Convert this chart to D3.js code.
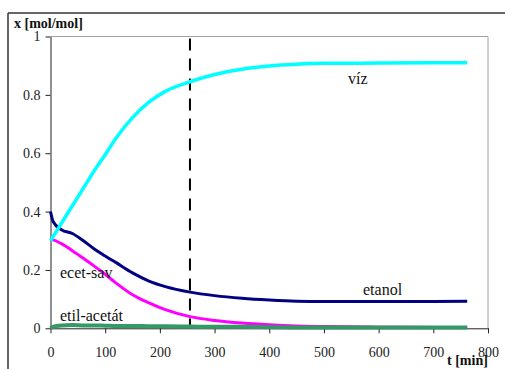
<!DOCTYPE html>
<html>
<head>
<meta charset="utf-8">
<script src="https://cdn.jsdelivr.net/npm/d3@7"></script>
<style>
  html, body { margin: 0; padding: 0; background: #fff; }
  svg { display: block; }
</style>
</head>
<body>
<svg id="chart" width="505" height="369"></svg>
<script>
// time points [min]
var tPoints = [0, 5, 20, 40, 60, 80, 100, 120, 150, 180, 210, 255, 300, 350, 400, 450, 500, 600, 700, 762];

// mole fractions
var vizValues    = [0.300, 0.315, 0.360, 0.420, 0.480, 0.540, 0.595, 0.652, 0.722, 0.775, 0.812, 0.845, 0.870, 0.888, 0.899, 0.905, 0.908, 0.909, 0.910, 0.910];
var etanolValues = [0.400, 0.365, 0.338, 0.325, 0.300, 0.272, 0.248, 0.225, 0.190, 0.162, 0.143, 0.124, 0.112, 0.103, 0.097, 0.093, 0.092, 0.092, 0.092, 0.093];
var ecetValues   = [0.305, 0.303, 0.290, 0.266, 0.240, 0.213, 0.185, 0.155, 0.115, 0.087, 0.064, 0.040, 0.027, 0.018, 0.012, 0.008, 0.006, 0.004, 0.003, 0.003];
var etilValues   = [0.000, 0.006, 0.010, 0.011, 0.010, 0.010, 0.009, 0.008, 0.008, 0.007, 0.007, 0.006, 0.005, 0.005, 0.004, 0.003, 0.003, 0.003, 0.003, 0.003];

var seriesNames  = ['etanol', 'ecet-sav', 'etil-acetát', 'víz'];
var seriesColors = ['#000080', '#ff00ff', '#339966', '#00ffff'];
var seriesWidths = [3, 3, 4, 3.5];
var seriesValues = [etanolValues, ecetValues, etilValues, vizValues];

var xTicks = [0, 100, 200, 300, 400, 500, 600, 700, 800];
var yTicks = [0, 0.2, 0.4, 0.6, 0.8, 1];
var markerT = 255; // dashed vertical line

var FONT = 'Liberation Serif';

var svg = d3.select('#chart');

var x = d3.scaleLinear().domain([0, 800]).range([50.5, 488]);
var y = d3.scaleLinear().domain([0, 1]).range([328.3, 36.5]);

// outer frame (top and left edge)
svg.append('line').attr('x1', 8).attr('y1', 13).attr('x2', 505).attr('y2', 13)
    .attr('stroke', '#333').attr('stroke-width', 1.5);
svg.append('line').attr('x1', 8).attr('y1', 13).attr('x2', 8).attr('y2', 369)
    .attr('stroke', '#333').attr('stroke-width', 1.5);

// plot area border (top and right)
svg.append('path')
    .attr('d', 'M' + x(0) + ',' + y(1) + 'H' + x(800) + 'V' + y(0))
    .attr('fill', 'none').attr('stroke', '#a0a0a0').attr('stroke-width', 1);

// y axis
var yAxis = svg.append('g')
    .attr('transform', 'translate(' + x(0) + ',0)')
    .call(d3.axisLeft(y).tickValues(yTicks).tickSize(5).tickPadding(5).tickSizeOuter(0)
        .tickFormat(function(d) { return (d === 0 || d === 1) ? String(d) : d3.format('.1f')(d); }));

// x axis
var xAxis = svg.append('g')
    .attr('transform', 'translate(0,' + y(0) + ')')
    .call(d3.axisBottom(x).tickValues(xTicks).tickSize(5).tickSizeOuter(0));

[yAxis, xAxis].forEach(function(ax) {
    ax.attr('font-family', FONT);
    ax.selectAll('.domain').attr('stroke', '#222');
    ax.selectAll('.tick line').attr('stroke', '#222');
    ax.selectAll('text')
        .attr('font-family', FONT)
        .attr('font-size', 14)
        .attr('fill', '#222');
});
xAxis.selectAll('text').attr('y', 29).attr('dy', null);

// dashed marker
svg.append('line')
    .attr('x1', x(markerT)).attr('x2', x(markerT))
    .attr('y1', y(1) + 2).attr('y2', y(0) - 2)
    .attr('stroke', '#000').attr('stroke-width', 2)
    .attr('stroke-dasharray', '12,8');

// curves
var line = d3.line()
    .x(function(d) { return x(d[0]); })
    .y(function(d) { return y(d[1]); })
    .curve(d3.curveMonotoneX);

seriesValues.forEach(function(vals, i) {
    svg.append('path')
        .datum(tPoints.map(function(t, j) { return [t, vals[j]]; }))
        .attr('fill', 'none')
        .attr('stroke', seriesColors[i])
        .attr('stroke-width', seriesWidths[i])
        .attr('stroke-linejoin', 'round')
        .attr('d', line);
});

// curve labels
var labels = [
    { text: 'víz', x: 348, y: 84 },
    { text: 'etanol', x: 363, y: 295 },
    { text: 'ecet-sav', x: 60, y: 278 },
    { text: 'etil-acetát', x: 60, y: 321 }
];
svg.selectAll('.curve-label')
    .data(labels)
    .join('text')
    .attr('class', 'curve-label')
    .attr('x', function(d) { return d.x; })
    .attr('y', function(d) { return d.y; })
    .attr('font-family', FONT)
    .attr('font-size', 16)
    .attr('fill', '#111')
    .text(function(d) { return d.text; });

// axis titles
svg.append('text').attr('x', 14).attr('y', 28)
    .attr('font-family', FONT)
    .attr('font-size', 14).attr('font-weight', 'bold').attr('fill', '#111')
    .text('x [mol/mol]');
svg.append('text').attr('x', 447).attr('y', 365)
    .attr('font-family', FONT)
    .attr('font-size', 14).attr('font-weight', 'bold').attr('fill', '#111')
    .text('t [min]');
</script>
</body>
</html>
